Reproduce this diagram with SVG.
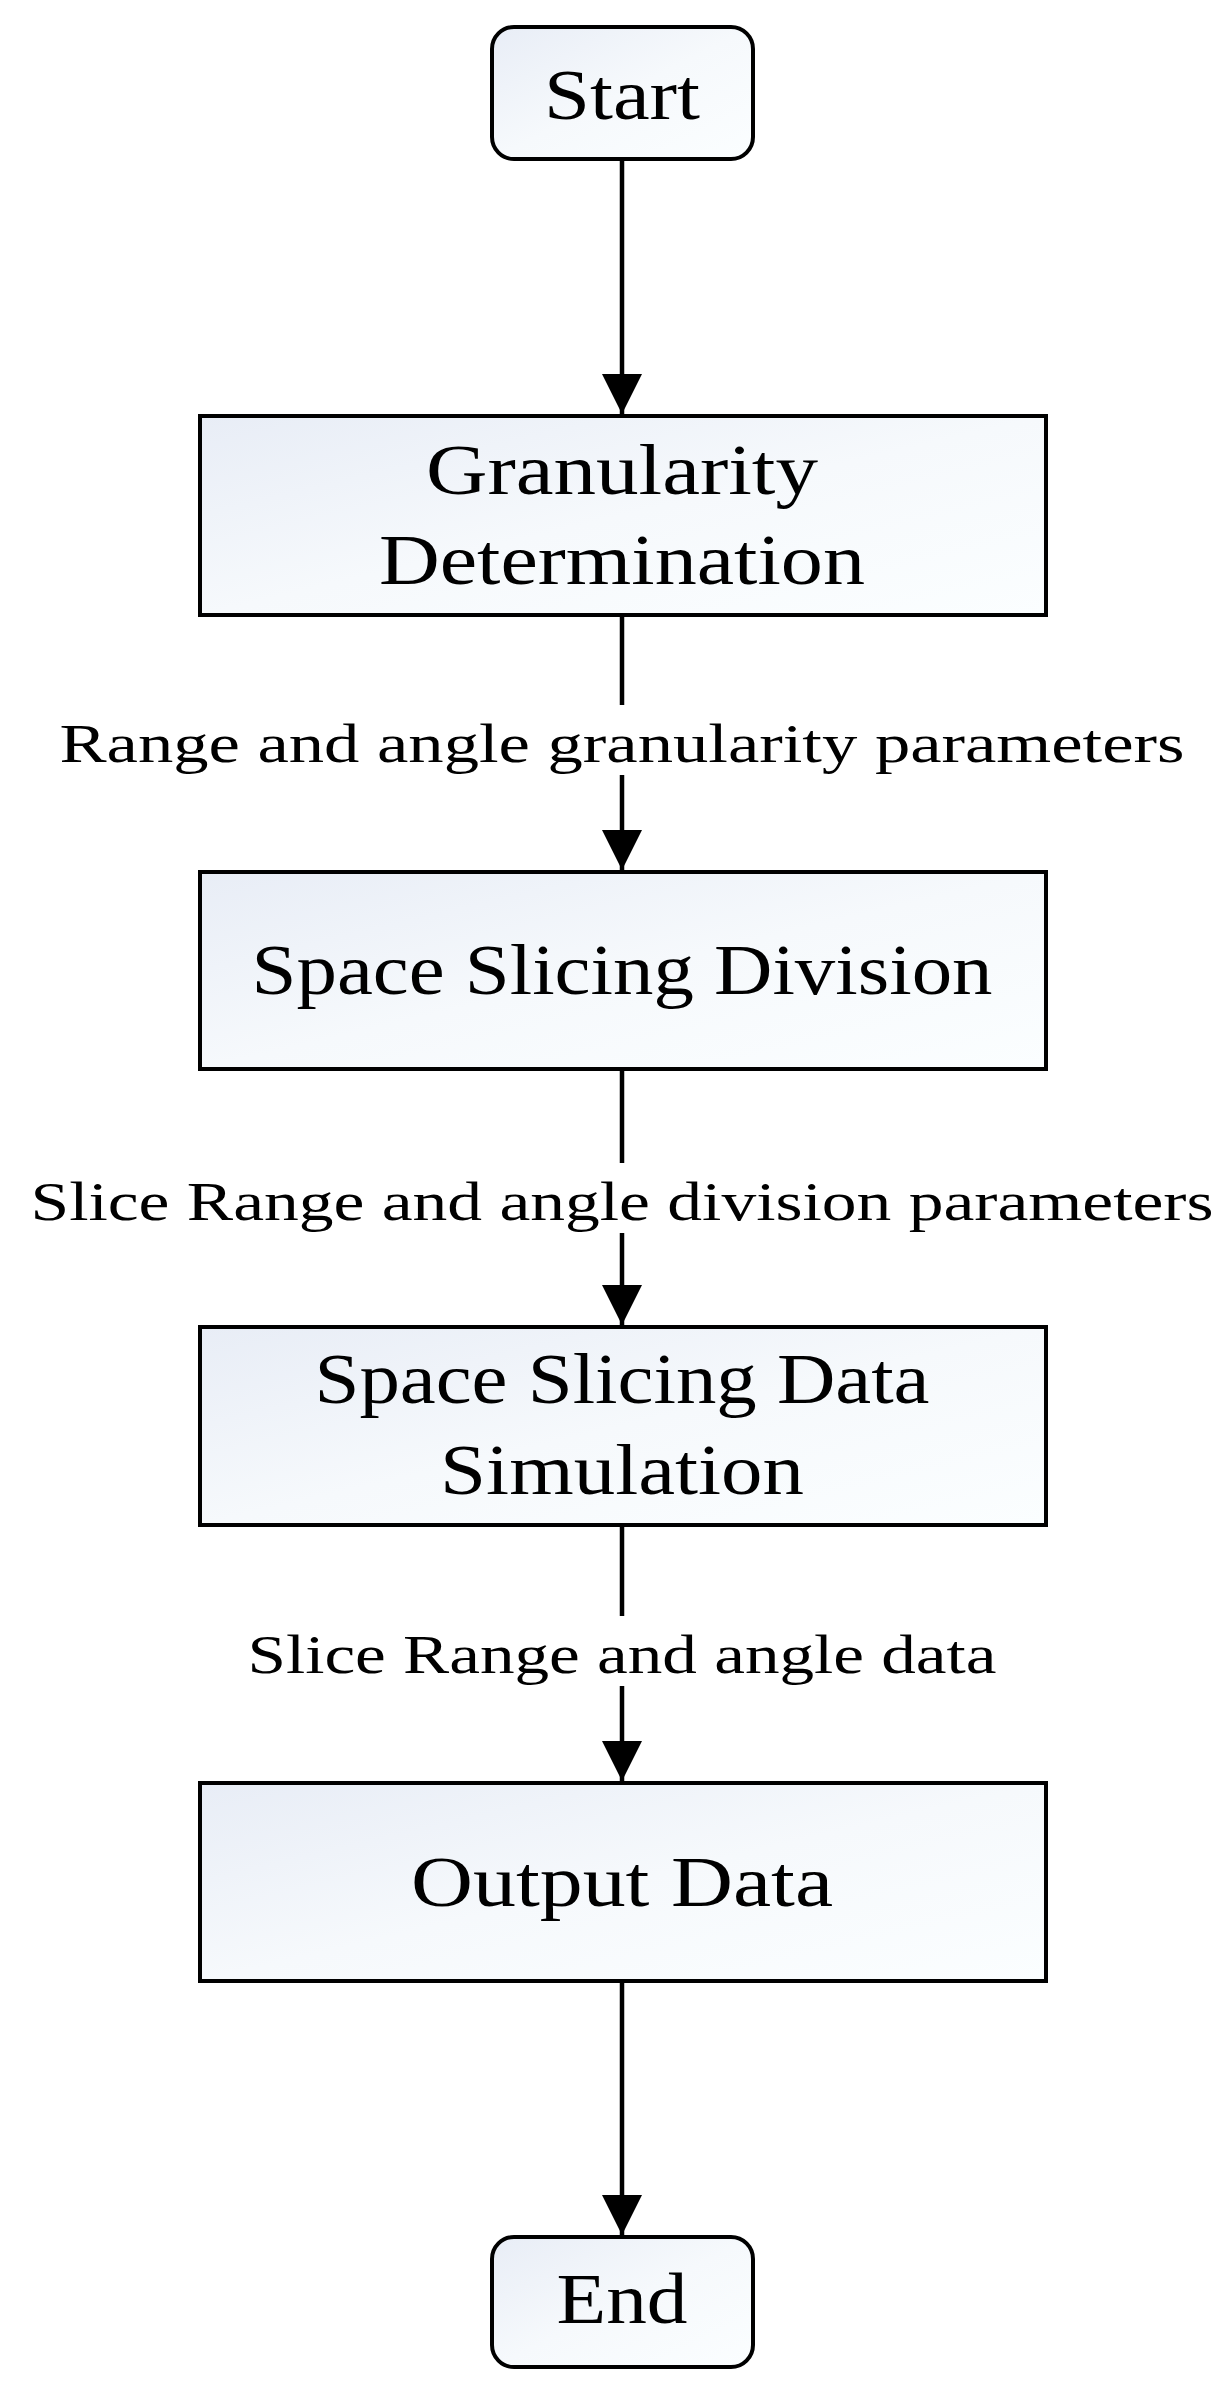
<svg xmlns="http://www.w3.org/2000/svg" width="1232" height="2392" viewBox="0 0 1232 2392">
<style>
.box{fill:url(#g);stroke:#000;stroke-width:4}
.t{font-family:"Liberation Serif",serif;font-size:72px;text-anchor:middle;fill:#000}
.l{font-family:"Liberation Serif",serif;font-size:54px;text-anchor:middle;fill:#000}
.c{stroke:#000;stroke-width:4.5;fill:none;marker-end:url(#a)}
</style>
<defs>
<linearGradient id="g" x1="0" y1="0" x2="1" y2="1"><stop offset="0" stop-color="#e8edf6"/><stop offset="0.5" stop-color="#f6f9fc"/><stop offset="1" stop-color="#fbfeff"/></linearGradient>
<marker id="a" markerWidth="10" markerHeight="10" refX="10" refY="5" orient="auto" markerUnits="userSpaceOnUse" viewBox="0 0 10 10"><path d="M0,0 L10,5 L0,10 z" fill="#000"/></marker>
<marker id="a2" viewBox="0 0 10 10" refX="10" refY="5" markerWidth="40" markerHeight="40" markerUnits="userSpaceOnUse" orient="auto"><path d="M0,0 L10,5 L0,10 z" fill="#000"/></marker>
</defs>
<rect width="1232" height="2392" fill="#fff"/>
<g id="connectors">
<line x1="622" y1="159" x2="622" y2="414" stroke="#000" stroke-width="4.5" marker-end="url(#a2)"/>
<line x1="622" y1="615" x2="622" y2="870" stroke="#000" stroke-width="4.5" marker-end="url(#a2)"/>
<line x1="622" y1="1069" x2="622" y2="1325" stroke="#000" stroke-width="4.5" marker-end="url(#a2)"/>
<line x1="622" y1="1525" x2="622" y2="1781" stroke="#000" stroke-width="4.5" marker-end="url(#a2)"/>
<line x1="622" y1="1981" x2="622" y2="2235" stroke="#000" stroke-width="4.5" marker-end="url(#a2)"/>
<rect x="55" y="705" width="1135" height="70" fill="#fff"/>
<text class="l" x="622" y="762" textLength="1125" lengthAdjust="spacingAndGlyphs">Range and angle granularity parameters</text>
<rect x="30" y="1163" width="1175" height="70" fill="#fff"/>
<text class="l" x="622" y="1220" textLength="1183" lengthAdjust="spacingAndGlyphs">Slice Range and angle division parameters</text>
<rect x="245" y="1616" width="755" height="70" fill="#fff"/>
<text class="l" x="622" y="1673" textLength="749" lengthAdjust="spacingAndGlyphs">Slice Range and angle data</text>
</g>
<g id="start"><rect class="box" x="492" y="27" width="261" height="132" rx="22"/><text class="t" x="622" y="119" textLength="156" lengthAdjust="spacingAndGlyphs">Start</text></g>
<g id="granularity"><rect class="box" x="200" y="416" width="846" height="199"/><text class="t" x="622" y="494" textLength="392" lengthAdjust="spacingAndGlyphs">Granularity</text><text class="t" x="622" y="584" textLength="486" lengthAdjust="spacingAndGlyphs">Determination</text></g>
<g id="division"><rect class="box" x="200" y="872" width="846" height="197"/><text class="t" x="622" y="994" textLength="741" lengthAdjust="spacingAndGlyphs">Space Slicing Division</text></g>
<g id="simulation"><rect class="box" x="200" y="1327" width="846" height="198"/><text class="t" x="622" y="1403" textLength="615" lengthAdjust="spacingAndGlyphs">Space Slicing Data</text><text class="t" x="622" y="1494" textLength="364" lengthAdjust="spacingAndGlyphs">Simulation</text></g>
<g id="output"><rect class="box" x="200" y="1783" width="846" height="198"/><text class="t" x="622" y="1906" textLength="422" lengthAdjust="spacingAndGlyphs">Output Data</text></g>
<g id="end"><rect class="box" x="492" y="2237" width="261" height="130" rx="22"/><text class="t" x="622" y="2323" textLength="131" lengthAdjust="spacingAndGlyphs">End</text></g>
</svg>
